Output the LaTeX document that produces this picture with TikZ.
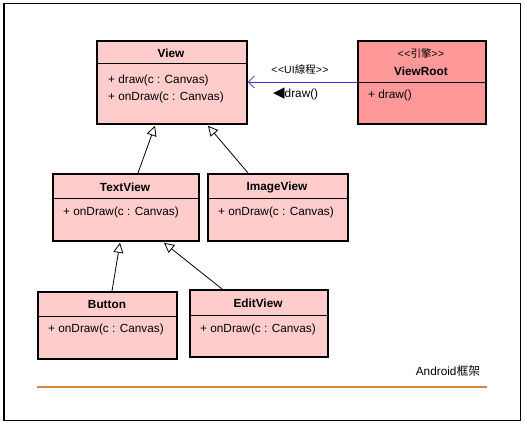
\documentclass[tikz,border=0pt]{standalone}
\usepackage{fontspec}
\setmainfont{Liberation Sans}[Ligatures=NoCommon]
\newfontfamily\cjk{Noto Sans CJK TC}
\newfontfamily\symfont{DejaVu Sans}
\usetikzlibrary{arrows.meta,calc}
\definecolor{boxpink}{HTML}{FFCCCC}
\definecolor{rootpink}{HTML}{FF9999}
\definecolor{assocblue}{HTML}{3333CC}
\definecolor{rulerorange}{HTML}{D9873A}
\newcommand{\llt}{{<}\kern0.5pt{<}}
\newcommand{\ggt}{{>}\kern0.5pt{>}}
\begin{document}
\begin{tikzpicture}[x=1pt,y=-1pt,
  every node/.style={font=\fontsize{11.8}{13}\selectfont, inner sep=0pt},
  classbox/.style={draw=black, line width=1.8pt, fill=boxpink, rectangle, anchor=north west},
  rootbox/.style={classbox, fill=rootpink},
  divider/.style={line width=1pt},
  cname/.style={font=\fontsize{11.8}{13}\selectfont\bfseries},
  member/.style={anchor=west},
  small/.style={font=\fontsize{10.5}{12}\selectfont},
  inherit/.style={line width=0.8pt, -{Triangle[open, length=10pt, width=10pt, line width=0.8pt]}},
  assoc/.style={draw=assocblue, line width=0.8pt, -{Straight Barb[length=6pt, width=12pt, line width=0.8pt]}}
]
\useasboundingbox (0,0) rectangle (527,428);
\draw[line width=1.2pt] (4,3.5) rectangle (520.5,420.5);

% class boxes
\node[classbox, minimum width=150pt, minimum height=83pt] (View) at (96,40) {};
\node[rootbox, minimum width=128pt, minimum height=83pt] (ViewRoot) at (357,40) {};
\node[classbox, minimum width=146pt, minimum height=67pt] (TextView) at (52,173) {};
\node[classbox, minimum width=140pt, minimum height=67pt] (ImageView) at (207,173) {};
\node[classbox, minimum width=139pt, minimum height=67pt] (Button) at (37,291) {};
\node[classbox, minimum width=138pt, minimum height=67pt] (EditView) at (189,289) {};

% dividers
\draw[divider] (View.west |- 0,64) -- (View.east |- 0,64);
\draw[divider] (ViewRoot.west |- 0,82) -- (ViewRoot.east |- 0,82);
\draw[divider] (TextView.west |- 0,198) -- (TextView.east |- 0,198);
\draw[divider] (ImageView.west |- 0,198) -- (ImageView.east |- 0,198);
\draw[divider] (Button.west |- 0,316) -- (Button.east |- 0,316);
\draw[divider] (EditView.west |- 0,315) -- (EditView.east |- 0,315);

% texts
\node[cname] (tView) at (171,53) {View};
\node[member] (mView1) at (108,80) {+ draw(c : Canvas)};
\node[member] (mView2) at (108,97) {+ onDraw(c : Canvas)};

\node[small] (sRoot) at (421,53) {\llt{\cjk 引擎}\ggt};
\node[cname] (tRoot) at (421,71) {ViewRoot};
\node[member] (mRoot) at (368,95) {+ draw()};

\node[cname] (tText) at (125,187) {TextView};
\node[member] (mText) at (63,212) {+ onDraw(c : Canvas)};

\node[cname] (tImage) at (277,187) {ImageView};
\node[member] (mImage) at (218,212) {+ onDraw(c : Canvas)};

\node[cname] (tButton) at (107,304) {Button};
\node[member] (mButton) at (48,329) {+ onDraw(c : Canvas)};

\node[cname] (tEdit) at (258,303) {EditView};
\node[member] (mEdit) at (200,329) {+ onDraw(c : Canvas)};

% association
\draw[assoc] (ViewRoot.west |- 0,82) -- (View.east |- 0,82);
\node[small] (lUI) at (300,70) {\llt UI{\cjk 線程}\ggt};
\node[anchor=west] (lDraw) at (273,94) {{\symfont\fontsize{15}{15}\selectfont ◀}draw()};

% inheritance
\draw[inherit] ($(TextView.north west)+(86,0)$) -- ($(View.south west)+(59,1)$);
\draw[inherit] ($(ImageView.north west)+(41,0)$) -- ($(View.south west)+(112,1)$);
\draw[inherit] ($(Button.north west)+(75,0)$) -- ($(TextView.south west)+(68,1)$);
\draw[inherit] ($(EditView.north west)+(33,0)$) -- ($(TextView.south west)+(112,1)$);

% framework ruler
\draw[rulerorange, line width=2pt] (37,387) coordinate (r1) -- (487,387) coordinate (r2);
\node (lAndroid) at (448,371) {Android{\cjk 框架}};
\end{tikzpicture}
\end{document}
